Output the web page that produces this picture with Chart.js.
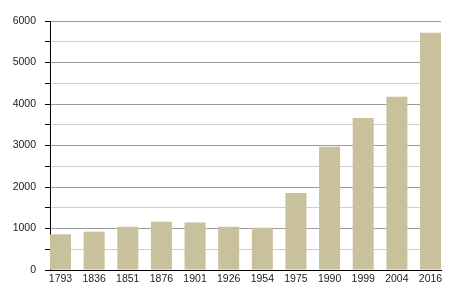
<!DOCTYPE html>
<html lang="en">
<head>
  <meta charset="UTF-8" />
  <title>Population by year</title>
  <script src="https://cdn.jsdelivr.net/npm/chart.js"></script>
  <style>
    html, body {
      margin: 0;
      padding: 0;
      background: #fff;
    }
    canvas {
      display: block;
    }
  </style>
</head>
<body>
  <canvas id="popChart" width="450" height="300"></canvas>

  <script>
    const years = ['1793', '1836', '1851', '1876', '1901', '1926', '1954', '1975', '1990', '1999', '2004', '2016'];
    const population = [860, 925, 1040, 1165, 1145, 1045, 1020, 1855, 2970, 3665, 4175, 5715];
    const yTicks = [0, 500, 1000, 1500, 2000, 2500, 3000, 3500, 4000, 4500, 5000, 5500, 6000];

    const ctx = document.getElementById('popChart').getContext('2d');

    const chart = new Chart(ctx, {
      type: 'bar',
      data: {
        datasets: [{
          data: population.map((v, i) => ({ x: i, y: v })),
          backgroundColor: '#c9c09c',
          barPercentage: 0.625,
          categoryPercentage: 1
        }]
      },
      options: {
        responsive: false,
        animation: false,
        layout: {
          padding: { top: 21, right: 9, left: 0, bottom: 0 }
        },
        plugins: {
          legend: { display: false },
          tooltip: { enabled: false }
        },
        scales: {
          x: {
            type: 'linear',
            offset: false,
            min: -0.3125,
            max: years.length - 1 + 0.3125,
            afterBuildTicks: (scale) => {
              scale.ticks = years.map((_, i) => ({ value: i }));
            },
            afterFit: (scale) => { scale.height = 30; },
            grid: { display: false, drawTicks: false },
            border: { display: true, color: '#000', width: 1, z: 1 },
            ticks: {
              autoSkip: false,
              maxRotation: 0,
              padding: 3,
              color: '#222',
              font: { family: 'Liberation Sans, Arial, sans-serif', size: 10.5 },
              callback: (v) => years[v]
            }
          },
          y: {
            min: 0,
            max: 6000,
            afterBuildTicks: (scale) => {
              scale.ticks = yTicks.map(v => ({ value: v }));
            },
            afterFit: (scale) => { scale.width = 50; },
            grid: {
              color: (c) => c.tick.value === 0 ? '#000' : (c.tick.value % 1000 === 0 ? '#9c9c9c' : '#cfcfcf'),
              tickColor: '#000',
              tickLength: 5,
              lineWidth: 1
            },
            border: { display: true, color: '#000', width: 1 },
            ticks: {
              padding: 9,
              color: '#222',
              font: { family: 'Liberation Sans, Arial, sans-serif', size: 10.5 },
              callback: (v) => v % 1000 === 0 ? String(v) : ''
            }
          }
        }
      }
    });
  </script>
</body>
</html>
